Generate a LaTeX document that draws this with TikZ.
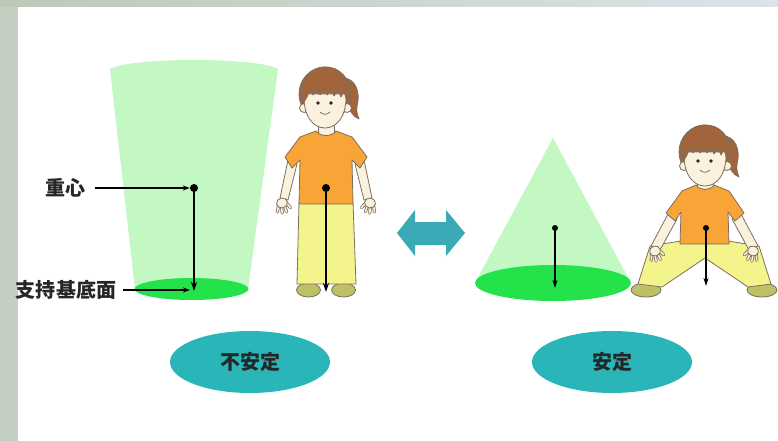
\documentclass[tikz,border=0pt]{standalone}
\usepackage{fontspec}
\newfontfamily\cjk{Noto Sans CJK JP}
\usetikzlibrary{arrows.meta,shapes.geometric}

\definecolor{stripgreen}{HTML}{C5CFC1}
\definecolor{stripleft}{HTML}{BCC9B8}
\definecolor{stripright}{HTML}{DCE3E9}
\definecolor{palegreen}{HTML}{C3F8C3}
\definecolor{basegreen}{HTML}{24E24A}
\definecolor{tealfill}{HTML}{2AB5B9}
\definecolor{tealarrow}{HTML}{3AAAB6}
\definecolor{shirt}{HTML}{F8A537}
\definecolor{pants}{HTML}{F3F48C}
\definecolor{skin}{HTML}{FBF1DF}
\definecolor{hair}{HTML}{A2643A}
\definecolor{shoe}{HTML}{BCC165}
\definecolor{outline}{HTML}{7D6E60}
\definecolor{ink}{HTML}{262626}

\tikzset{
  lbl/.style={font=\cjk\bfseries\fontsize{20}{22}\selectfont, text=ink, inner sep=0pt},
  badge/.style={ellipse, fill=tealfill, minimum width=160pt, minimum height=62pt,
                inner sep=0pt, font=\cjk\bfseries\fontsize{20}{22}\selectfont, text=ink},
  cgdot/.style={circle, fill=black, inner sep=0pt, minimum size=#1},
  cgbig/.style={line width=2.8pt, -{Stealth[length=9pt,width=6pt]}},
  cgsmall/.style={line width=2pt, -{Stealth[length=8pt,width=5pt]}},
  lblline/.style={line width=1.6pt, -{Stealth[length=7pt,width=5pt]}},
  body/.style={draw=outline, line width=0.8pt, line join=round},
  % a finger: outlined skin stroke
  finger/.style={draw=outline, line width=3.2pt, line cap=round,
                 postaction={draw=skin, line width=1.6pt, line cap=round}},
  % hanging hand with fingers pointing down
  hand/.pic={
    \draw[finger] (-4,2) -- (-6,8);
    \draw[finger] (-1,3) -- (-1.5,10);
    \draw[finger] (2,3) -- (3,9.5);
    \draw[finger] (4.5,1) -- (7.5,6);
    \filldraw[body, fill=skin] (0,0) ellipse (5.5 and 5);
  },
  head/.pic={
    % ponytail
    \filldraw[body, fill=hair] (18,-22) .. controls (30,-22) and (36,-8) .. (32,6)
      .. controls (31,12) and (33,16) .. (34,19) .. controls (28,17) and (24,10) .. (22,2) -- cycle;
    % back hair
    \filldraw[body, fill=hair] (0,-6) ellipse (26 and 27);
    % ears
    \filldraw[body, fill=skin] (-21,8) circle (4.5);
    \filldraw[body, fill=skin] (22,8) circle (4.5);
    % face
    \filldraw[body, fill=skin] (-21,-6) .. controls (-22,16) and (-12,28) .. (0,28)
      .. controls (12,28) and (22,16) .. (21,-6) -- cycle;
    % fringe
    \filldraw[body, fill=hair] (-22,4) .. controls (-26,-24) and (-12,-33) .. (0,-33)
      .. controls (14,-33) and (26,-24) .. (22,2) -- (19,-9) -- (16,-3) -- (13,-10)
      -- (9,-4) -- (6,-11) -- (2,-5) -- (-1,-12) -- (-5,-5) -- (-8,-12) -- (-12,-5)
      -- (-15,-11) -- (-18,-3) -- cycle;
    % eyes and smile
    \fill[ink] (-7,3) circle (1.8) (6,3) circle (1.8);
    \draw[outline, line width=0.8pt] (-5,12) .. controls (-2,15) and (2,15) .. (5,12);
  }
}

\begin{document}
\begin{tikzpicture}[x=1pt,y=-1pt]
  % frame and panel
  \useasboundingbox (0,0) rectangle (778,441);
  \fill[stripgreen] (0,0) rectangle (778,441);
  \shade[left color=stripleft, right color=stripright] (0,0) rectangle (778,7);
  \fill[white] (18,7) rectangle (778,441);

  % ---------- unstable column ----------
  \fill[palegreen] (110,69) .. controls (130,57) and (258,57) .. (278,69)
    -- (248,289) -- (135,289) -- cycle;
  \fill[basegreen] (191.5,289) ellipse (57 and 11);

  \node[cgdot=8pt] (g1) at (194,188) {};
  \coordinate (f1) at (194,291);
  \draw[cgbig] (g1.center) -- (f1);

  \node[lbl] (cgtxt) at (65,188) {重心};
  \node[lbl] (bstxt) at (66,290) {支持基底面};
  \draw[lblline, shorten <=10pt] (cgtxt.east) -- (g1.west);
  \draw[lblline, shorten <=7pt, shorten >=4pt] (bstxt.east) -- (bstxt.east -| f1);

  % ---------- standing girl ----------
  \filldraw[body, fill=shoe] (308.5,290) ellipse (12 and 7);
  \filldraw[body, fill=shoe] (343.5,290) ellipse (12 and 7);
  \filldraw[body, fill=pants] (299,202) -- (353,202) -- (356,284) -- (297,284) -- cycle;
  \filldraw[body, fill=skin] (288,160) -- (297,164) -- (288,200) -- (280,198) -- cycle;
  \filldraw[body, fill=skin] (364,160) -- (355,164) -- (364,200) -- (372,198) -- cycle;
  \pic[rotate=10] at (282,203) {hand};
  \pic[xscale=-1, rotate=10] at (370,203) {hand};
  \filldraw[body, fill=skin] (318,122) rectangle (334,136);
  \filldraw[body, fill=shirt] (316,131) -- (300,137) -- (285,157) -- (292,168) -- (300,160)
    -- (299,204) -- (353,204) -- (352,160) -- (360,168) -- (367,157) -- (352,137)
    -- (336,131) .. controls (332,137) and (320,137) .. (316,131) -- cycle;
  \pic at (325,100) {head};

  \node[cgdot=8pt] (g2) at (326,188) {};
  \coordinate (f2) at (326,292);
  \draw[cgbig] (g2.center) -- (f2);

  % ---------- double arrow ----------
  \fill[tealarrow] (397,233) -- (415,210) -- (415,222) -- (446,222) -- (446,210)
    -- (465,233) -- (446,256) -- (446,245) -- (415,245) -- (415,256) -- cycle;

  % ---------- stable column ----------
  \fill[palegreen] (553,138) -- (631,283) -- (475,283) -- cycle;
  \fill[basegreen] (553,283) ellipse (78 and 18);

  \node[cgdot=6pt] (g3) at (555,228) {};
  \coordinate (f3) at (555,288);
  \draw[cgsmall] (g3.center) -- (f3);

  % ---------- sitting girl ----------
  \filldraw[body, fill=shoe] (646,290) ellipse (15 and 7);
  \filldraw[body, fill=shoe] (762,290) ellipse (15 and 7);
  \filldraw[body, fill=pants] (681,241) -- (650,246) -- (638,284) -- (662,287) -- (705,258)
    -- (748,287) -- (771,284) -- (759,246) -- (728,241) -- cycle;
  \filldraw[body, fill=skin] (668,214) -- (677,219) -- (660,250) -- (651,246) -- cycle;
  \filldraw[body, fill=skin] (741,214) -- (732,219) -- (749,250) -- (758,246) -- cycle;
  \pic[rotate=15] at (655,251) {hand};
  \pic[xscale=-1, rotate=15] at (753,251) {hand};
  \filldraw[body, fill=skin] (697,176) rectangle (713,190);
  \filldraw[body, fill=shirt] (696,185) -- (682,191) -- (666,213) -- (675,221) -- (681,212)
    -- (680,244) -- (729,244) -- (728,212) -- (735,221) -- (744,213) -- (729,191)
    -- (714,185) .. controls (710,191) and (700,191) .. (696,185) -- cycle;
  \pic at (705,158) {head};

  \node[cgdot=6pt] (g4) at (706,228) {};
  \coordinate (f4) at (706,286);
  \draw[cgsmall] (g4.center) -- (f4);

  % ---------- verdict badges ----------
  \node[badge] (unstable) at (250,362) {不安定};
  \node[badge] (stable) at (612,362) {安定};
\end{tikzpicture}
\end{document}
